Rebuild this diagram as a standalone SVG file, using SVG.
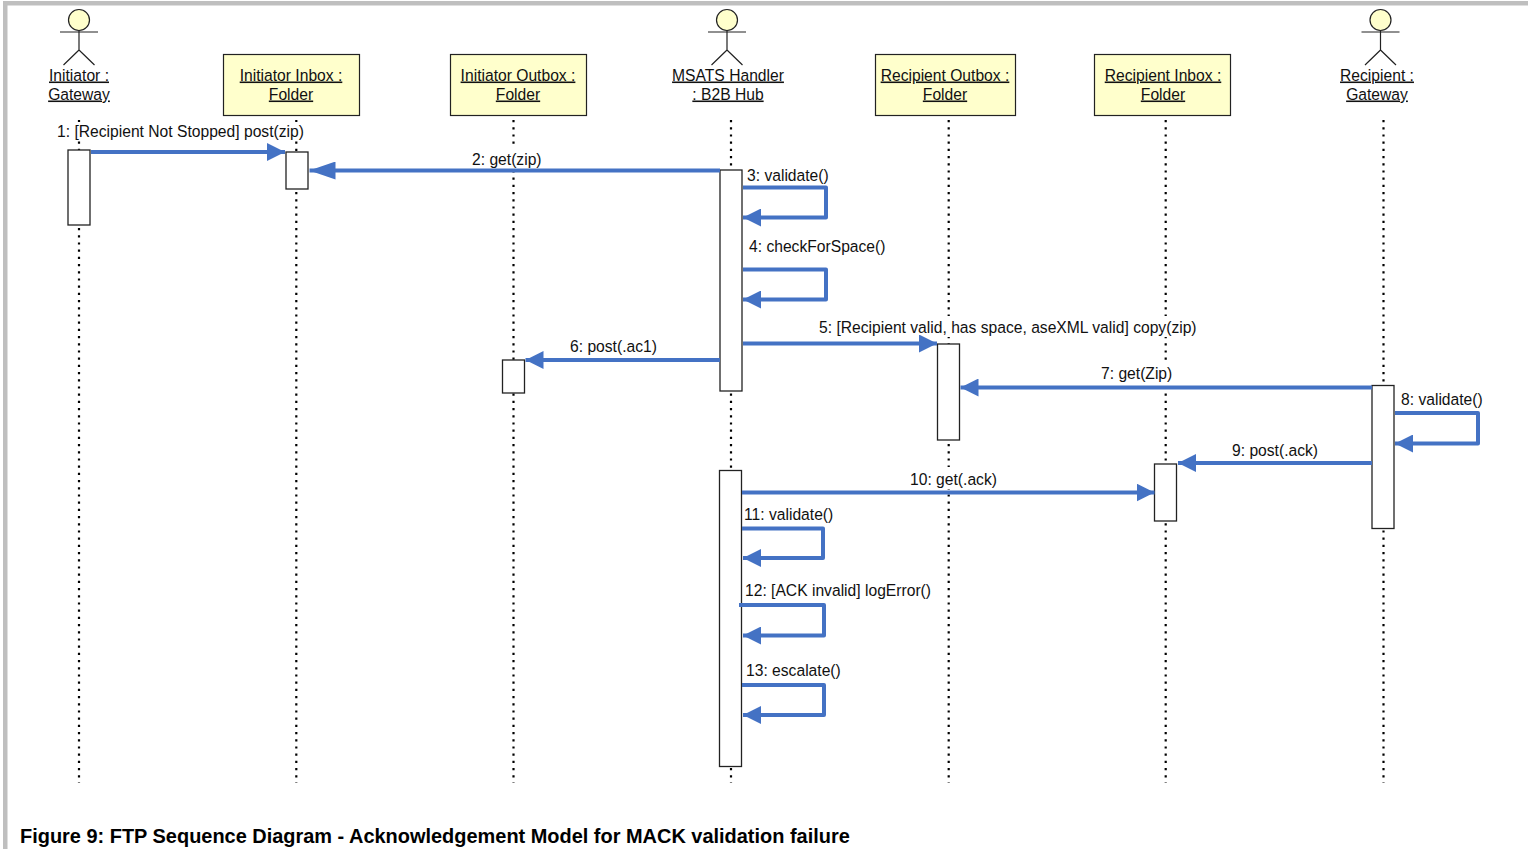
<svg xmlns="http://www.w3.org/2000/svg" width="1528" height="849" viewBox="0 0 1528 849">
<defs>
<marker id="ah" markerUnits="userSpaceOnUse" markerWidth="18" markerHeight="18" refX="18" refY="9" orient="auto"><path d="M0 0L18 9L0 18Z" fill="#4472c4"/></marker>
<marker id="ah2" markerUnits="userSpaceOnUse" markerWidth="26" markerHeight="18" refX="26" refY="9" orient="auto"><path d="M0 0L26 9L0 18Z" fill="#4472c4"/></marker>
<g id="actor"><circle cx="0" cy="-45" r="10.5" fill="#ffffcc" stroke="#222" stroke-width="1.2"/><path d="M-19 -33H19M0 -34.500V-15M0 -15L-15.500 0M0 -15L15.500 0" fill="none" stroke="#222" stroke-width="1.200"/></g>
</defs>
<style>
text{font-family:"Liberation Sans",Arial,sans-serif;font-size:15.650px;fill:#111}
.n{text-anchor:middle;text-decoration:underline}
.box{fill:#ffffcc;stroke:#222;stroke-width:1.200}
.act{fill:#fff;stroke:#222;stroke-width:1.300}
.life{stroke:#000;stroke-width:2.200;stroke-dasharray:2.200 5;fill:none}
.bg{fill:#fff}
.m{stroke:#4472c4;stroke-width:4;fill:none;marker-end:url(#ah);stroke-linejoin:round}
</style>
<rect x="3" y="1" width="1525" height="4.500" fill="#bfbfbf"/>
<rect x="3" y="1" width="4.500" height="848" fill="#bfbfbf"/>
<g id="lifelines">
<path class="life" d="M79 120V783"/><path class="life" d="M296.300 120V783"/><path class="life" d="M513.500 120V783"/><path class="life" d="M731 120V783"/><path class="life" d="M948.700 120V783"/><path class="life" d="M1165.700 120V783"/><path class="life" d="M1383.500 120V783"/>
</g>
<g id="label-backs">
<rect class="bg" x="57" y="122" width="246" height="19"/>
<rect class="bg" x="472" y="147" width="70" height="22"/>
<rect class="bg" x="819" y="316" width="378" height="21"/>
<rect class="bg" x="1101" y="361" width="72" height="22"/>
<rect class="bg" x="910" y="467" width="87" height="22"/>
</g>
<g id="n1"><use href="#actor" x="79" y="65"/><text class="n" x="79" y="80.500">Initiator :</text><text class="n" x="79" y="99.500">Gateway</text></g>
<g id="n2"><rect class="box" x="223.500" y="54.500" width="136" height="61"/><text class="n" x="291" y="80.500">Initiator Inbox :</text><text class="n" x="291" y="99.500">Folder</text></g>
<g id="n3"><rect class="box" x="450.500" y="54.500" width="136" height="61"/><text class="n" x="518" y="80.500">Initiator Outbox :</text><text class="n" x="518" y="99.500">Folder</text></g>
<g id="n4"><use href="#actor" x="727" y="65"/><text class="n" x="728" y="80.500">MSATS Handler</text><text class="n" x="728" y="99.500">: B2B Hub</text></g>
<g id="n5"><rect class="box" x="875.500" y="54.500" width="140" height="61"/><text class="n" x="945" y="80.500">Recipient Outbox :</text><text class="n" x="945" y="99.500">Folder</text></g>
<g id="n6"><rect class="box" x="1094.500" y="54.500" width="136" height="61"/><text class="n" x="1163" y="80.500">Recipient Inbox :</text><text class="n" x="1163" y="99.500">Folder</text></g>
<g id="n7"><use href="#actor" x="1380.500" y="65"/><text class="n" x="1377" y="80.500">Recipient :</text><text class="n" x="1377" y="99.500">Gateway</text></g>
<g id="activations">
<rect class="act" x="68" y="150" width="22" height="75"/>
<rect class="act" x="286" y="152" width="22" height="37"/>
<rect class="act" x="720" y="170" width="22" height="221"/>
<rect class="act" x="502.500" y="360" width="22" height="33"/>
<rect class="act" x="937.500" y="344" width="22" height="96"/>
<rect class="act" x="1372" y="385.500" width="22" height="143"/>
<rect class="act" x="719.500" y="470.500" width="22" height="296"/>
<rect class="act" x="1154.500" y="464" width="22" height="57"/>
</g>
<g id="connectors">
<path class="m" d="M91 152H285"/>
<path class="m" style="marker-end:url(#ah2)" d="M720 170.500H309.500"/>
<path class="m" d="M743 187.500H826V217.500H743"/>
<path class="m" d="M743 269.500H826V299.500H743"/>
<path class="m" d="M743 343.500H937"/>
<path class="m" d="M720 360H525.500"/>
<path class="m" d="M1372 387.500H960.500"/>
<path class="m" d="M1395 413H1478V443.500H1395"/>
<path class="m" d="M1372 463H1178"/>
<path class="m" d="M742 492.500H1154.500"/>
<path class="m" d="M742 528.500H823V558H743"/>
<path class="m" d="M739 605H824V635.500H743"/>
<path class="m" d="M742 685H824V715H743"/>
</g>
<g id="labels">
<text x="57" y="136.500">1: [Recipient Not Stopped] post(zip)</text>
<text x="472" y="164.500">2: get(zip)</text>
<text x="747" y="180.500">3: validate()</text>
<text x="749" y="251.500">4: checkForSpace()</text>
<text x="819" y="332.500">5: [Recipient valid, has space, aseXML valid] copy(zip)</text>
<text x="570" y="351.500">6: post(.ac1)</text>
<text x="1101" y="378.500">7: get(Zip)</text>
<text x="1401" y="404.500">8: validate()</text>
<text x="1232" y="455.500">9: post(.ack)</text>
<text x="910" y="484.500">10: get(.ack)</text>
<text x="744" y="519.500">11: validate()</text>
<text x="745" y="595.500">12: [ACK invalid] logError()</text>
<text x="746" y="675.500">13: escalate()</text>
</g>
<text x="20" y="843" style="font-size:19.950px;font-weight:bold;fill:#000">Figure 9: FTP Sequence Diagram - Acknowledgement Model for MACK validation failure</text>
</svg>
